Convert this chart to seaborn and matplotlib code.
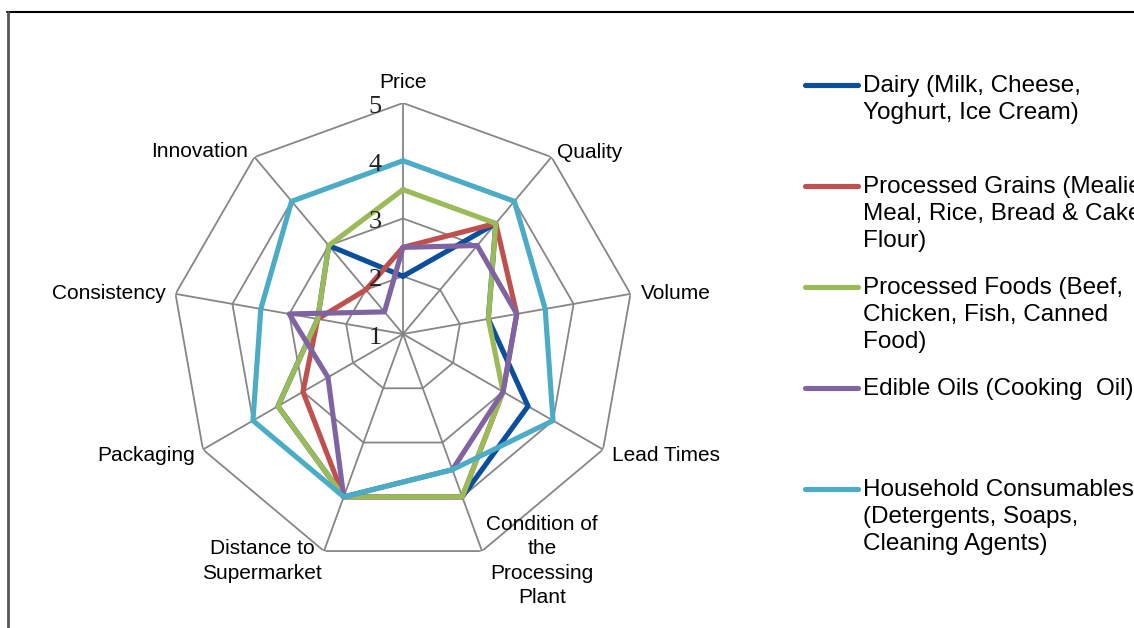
import numpy as np
import pandas as pd
import matplotlib
matplotlib.use("Agg")
import matplotlib.pyplot as plt
import matplotlib.transforms as mtransforms
from matplotlib.lines import Line2D
import seaborn as sns

# categories (clockwise from the top)
categories = ['Price', 'Quality', 'Volume', 'Lead Times',
              'Condition of\nthe\nProcessing\nPlant',
              'Distance to\nSupermarket', 'Packaging', 'Consistency', 'Innovation']

series_names = ['Dairy (Milk, Cheese,\nYoghurt, Ice Cream)',
                'Processed Grains (Mealie\nMeal, Rice, Bread & Cake\nFlour)',
                'Processed Foods (Beef,\nChicken, Fish, Canned\nFood)',
                'Edible Oils (Cooking  Oil)',
                'Household Consumables\n(Detergents, Soaps,\nCleaning Agents)']

dairy     = [2.0, 3.5, 2.5, 3.5, 4.0, 4.0, 3.5, 2.5, 3.0]
grains    = [2.5, 3.5, 3.0, 3.0, 4.0, 4.0, 3.0, 2.5, 2.0]
foods     = [3.5, 3.5, 2.5, 3.0, 4.0, 4.0, 3.5, 2.5, 3.0]
oils      = [2.5, 3.0, 3.0, 3.0, 3.5, 4.0, 2.5, 3.0, 1.5]
household = [4.0, 4.0, 3.5, 4.0, 3.5, 4.0, 4.0, 3.5, 4.0]

r_ticks = [1, 2, 3, 4, 5]
colors = ['#0B4F9C', '#C0504D', '#9BBB59', '#8064A2', '#4BACC6']

sns.set_style("white")
plt.rcParams['font.family'] = ['Liberation Sans', 'DejaVu Sans']

n = len(categories)
angles = np.linspace(0, 2 * np.pi, n, endpoint=False)
closed = np.append(angles, 2 * np.pi)

rows = []
for name, vals in zip(series_names, [dairy, grains, foods, oils, household]):
    for a, v in zip(closed, vals + vals[:1]):
        rows.append({'theta': a, 'value': v, 'series': name})
df = pd.DataFrame(rows)

W, H = 1134, 628
fig = plt.figure(figsize=(W / 100, H / 100), dpi=100)
cx, cy, R = 403, 334, 231
ax = fig.add_axes([(cx - R) / W, (H - cy - R) / H, 2 * R / W, 2 * R / H],
                  projection='polar')
ax.set_theta_zero_location('N')
ax.set_theta_direction(-1)
ax.set_ylim(1, 5)
ax.grid(False)
ax.spines['polar'].set_visible(False)
ax.set_xticks([])
ax.set_yticks([])

# nonagon grid
for r in r_ticks[1:]:
    ax.plot(closed, [r] * len(closed), color='#868686', lw=1.3, zorder=1)
for a in angles:
    ax.plot([a, a], [1, 5], color='#868686', lw=1.3, zorder=1)

sns.lineplot(data=df, x='theta', y='value', hue='series', palette=colors,
             sort=False, estimator=None, errorbar=None, legend=False,
             lw=3.7, ax=ax, zorder=3)
for ln in ax.lines[-5:]:
    ln.set_solid_joinstyle('round')
    ln.set_solid_capstyle('round')
ax.set_xlabel('')
ax.set_ylabel('')

# radial tick labels
tick_tr = mtransforms.offset_copy(ax.transData, fig=fig, x=-21, y=-4, units='dots')
for r in r_ticks:
    ax.text(0, r, str(r), transform=tick_tr, ha='right', va='center',
            fontsize=19, family='Liberation Serif', color='#222222')

# category labels: (dx, dy) in pixels, ha
label_pos = [(0, 21, 'center'), (6, 5, 'left'), (10, 0, 'left'), (9, -6, 'left'),
             (60, -10, 'center'), (-62, -10, 'center'), (-8, -6, 'right'),
             (-10, 0, 'right'), (-7, 6, 'right')]
for a, lab, (dx, dy, ha) in zip(angles, categories, label_pos):
    tr = mtransforms.offset_copy(ax.transData, fig=fig, x=dx, y=dy, units='dots')
    ax.text(a, 5, lab, transform=tr, ha=ha, va='center', ma='center',
            fontsize=15, linespacing=1.35, color='black', clip_on=False)

# legend drawn by hand, one entry every 101 px
leg_y = [85, 186, 287, 388, 489]
for y, name, c in zip(leg_y, series_names, colors):
    fig.add_artist(Line2D([805 / W, 858 / W], [1 - y / H, 1 - y / H],
                          color=c, lw=3.7, solid_capstyle='round'))
    fig.text(863 / W, 1 - (y - 10) / H, name, ha='left', va='top',
             fontsize=17.5, linespacing=1.28, color='black')

# outer frame (partly cut off)
fig.add_artist(Line2D([7 / W, 1], [1 - 12 / H, 1 - 12 / H], color='black', lw=1.5))
fig.add_artist(Line2D([8 / W, 8 / W], [0, 1 - 12 / H], color='#555555', lw=2))

fig.savefig('out.png', dpi=100)
